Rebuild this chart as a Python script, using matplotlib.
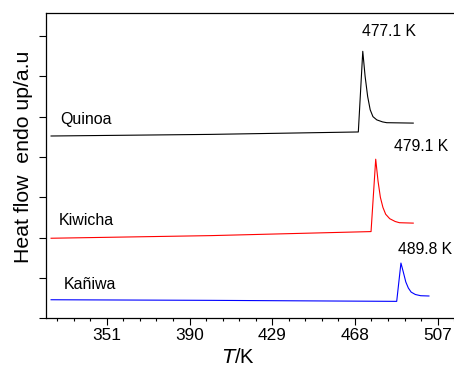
import matplotlib
matplotlib.use("Agg")
import matplotlib.pyplot as plt
from matplotlib.ticker import MultipleLocator, NullFormatter

plt.rcParams['font.family'] = ['Liberation Sans', 'DejaVu Sans']

# DSC curves (T in K, heat flow in arbitrary offset units)
quinoa_T = [324.7, 400.0, 469.6, 471.7, 472.8, 474.0, 475.2, 476.5, 478.3, 481.0, 483.0, 495.5]
quinoa_y = [4.52, 4.56, 4.62, 6.62, 6.00, 5.50, 5.17, 5.00, 4.92, 4.87, 4.85, 4.84]

kiwicha_T = [324.7, 400.0, 475.6, 477.8, 478.9, 480.0, 481.2, 482.5, 484.4, 487.0, 489.0, 495.5]
kiwicha_y = [1.985, 2.05, 2.15, 3.945, 3.40, 3.00, 2.75, 2.58, 2.47, 2.40, 2.37, 2.36]

kaniwa_T = [324.7, 400.0, 487.7, 489.7, 490.8, 492.0, 493.2, 494.5, 496.5, 499.0, 502.9]
kaniwa_y = [0.46, 0.445, 0.42, 1.37, 1.15, 0.90, 0.75, 0.65, 0.59, 0.56, 0.553]

names = ['Quinoa', 'Kiwicha', 'Kañiwa']
peak_labels = ['477.1 K', '479.1 K', '489.8 K']
xticks = [351, 390, 429, 468, 507]

fig = plt.figure(figsize=(4.54, 3.67), dpi=100)
ax = fig.add_axes([0.1013, 0.1327, 0.914, 0.8319])

ax.plot(quinoa_T, quinoa_y, color='black', lw=0.8)
ax.plot(kiwicha_T, kiwicha_y, color='#ff0000', lw=0.8)
ax.plot(kaniwa_T, kaniwa_y, color='#0000ff', lw=0.8)

# curve names
ax.text(328.9, 4.94, names[0], fontsize=11.5, va='center', ha='left')
ax.text(328.1, 2.42, names[1], fontsize=11.5, va='center', ha='left')
ax.text(330.9, 0.84, names[2], fontsize=11.5, va='center', ha='left')

# peak temperatures
ax.text(471.2, 7.10, peak_labels[0], fontsize=11.3, va='center', ha='left')
ax.text(486.4, 4.26, peak_labels[1], fontsize=11.3, va='center', ha='left')
ax.text(488.5, 1.71, peak_labels[2], fontsize=11.3, va='center', ha='left')

ax.set_xlim(322.3, 518)
ax.set_ylim(0, 7.57)
ax.set_xticks(xticks)
ax.xaxis.set_minor_locator(MultipleLocator(7.8))
ax.set_yticks(range(0, 8))
ax.yaxis.set_major_formatter(NullFormatter())

ax.tick_params(axis='x', which='major', direction='out', length=5, width=0.8, labelsize=12.4, pad=2)
ax.tick_params(axis='x', which='minor', direction='out', length=2.5, width=0.8)
ax.tick_params(axis='y', which='major', direction='out', length=5, width=0.8)
for s in ax.spines.values():
    s.set_linewidth(0.9)
ax.spines['right'].set_visible(False)

ax.set_xlabel(r'$\mathit{T}$/K', fontsize=14.5, va='center')
ax.xaxis.set_label_coords(0.463, -0.127)
ax.set_ylabel('Heat flow  endo up/a.u', fontsize=15.3, va='center')
ax.yaxis.set_label_coords(-0.055, 0.53)

fig.savefig('out.png', dpi=100)
